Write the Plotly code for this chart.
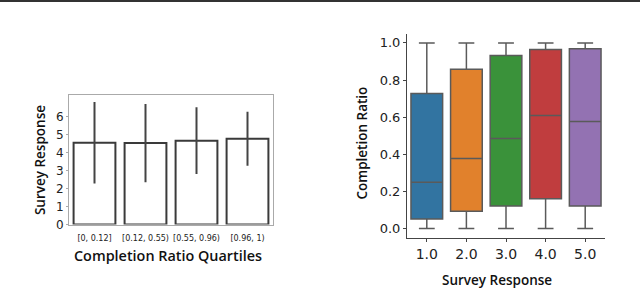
import plotly.graph_objects as go

W, H = 640, 295

# Left chart data
quartile_labels = ["[0, 0.12]", "[0.12, 0.55)", "[0.55, 0.96)", "[0.96, 1)"]
mean_response = [4.54, 4.52, 4.65, 4.76]
response_err = [2.26, 2.17, 1.85, 1.5]

# Right chart data
survey_levels = ["1.0", "2.0", "3.0", "4.0", "5.0"]
q1_vals = [0.051, 0.093, 0.121, 0.161, 0.121]
median_vals = [0.25, 0.377, 0.485, 0.609, 0.576]
q3_vals = [0.727, 0.858, 0.932, 0.965, 0.968]
low_whisk = [0.0, 0.0, 0.0, 0.0, 0.0]
high_whisk = [1.0, 1.0, 1.0, 1.0, 1.0]
box_colors = ["#3274a1", "#e1812c", "#3a923a", "#c03d3e", "#9372b2"]

def px(x):
    return x / W

def py(y):
    return 1 - y / H

fig = go.Figure()

fig.add_trace(go.Bar(
    x=quartile_labels, y=mean_response,
    marker=dict(color="white", line=dict(color="#3a3a3a", width=2)),
    error_y=dict(type="data", array=response_err, color="#444444", thickness=2, width=0),
    xaxis="x", yaxis="y", showlegend=False, width=0.82,
))

for i, lvl in enumerate(survey_levels):
    fig.add_trace(go.Box(
        x=[lvl], q1=[q1_vals[i]], median=[median_vals[i]], q3=[q3_vals[i]],
        lowerfence=[low_whisk[i]], upperfence=[high_whisk[i]],
        fillcolor=box_colors[i], line=dict(color="#5a5a5a", width=1.5),
        xaxis="x2", yaxis="y2", showlegend=False, width=0.8, whiskerwidth=0.5,
        boxpoints=False,
    ))

def tfont(size):
    return dict(family="Open Sans", size=size, color="#111111", weight=600)

fig.update_layout(
    width=W, height=H, margin=dict(l=0, r=0, t=0, b=0),
    paper_bgcolor="white", plot_bgcolor="white",
    xaxis=dict(domain=[px(69), px(273)], anchor="y", range=[-0.5, 3.5],
               showline=True, linecolor="#aaaaaa", mirror=True, linewidth=1,
               ticks="", tickangle=0, ticklabelstandoff=6,
               tickfont=dict(family="DejaVu Sans", size=8, color="#222"),
               showgrid=False, zeroline=False),
    yaxis=dict(domain=[py(230), py(97)], anchor="x", range=[0, 7.2],
               tickvals=[0, 1, 2, 3, 4, 5, 6], showline=True, linecolor="#aaaaaa",
               mirror=True, linewidth=1, ticks="outside", ticklen=2, tickcolor="#aaaaaa",
               tickfont=dict(family="DejaVu Sans", size=12, color="#222"),
               showgrid=False, zeroline=False),
    xaxis2=dict(domain=[px(407), px(605)], anchor="y2", range=[-0.5, 4.5],
                showline=True, linecolor="#444444", linewidth=1, ticks="outside",
                ticklen=3, tickcolor="#444444", tickfont=dict(family="DejaVu Sans", size=14, color="#222"),
                showgrid=False, zeroline=False),
    yaxis2=dict(domain=[py(244), py(35)], anchor="x2", range=[-0.052, 1.047],
                tickvals=[0, 0.2, 0.4, 0.6, 0.8, 1.0], ticktext=["0.0", "0.2", "0.4", "0.6", "0.8", "1.0"],
                showline=True, linecolor="#444444", linewidth=1, ticks="outside",
                ticklen=3, tickcolor="#444444", tickfont=dict(family="DejaVu Sans", size=13, color="#222"),
                showgrid=False, zeroline=False),
    shapes=[dict(type="line", xref="paper", yref="paper", x0=0, x1=1, y0=py(1), y1=py(1),
                 line=dict(color="#333333", width=2))],
    annotations=[
        dict(text="Survey Response", xref="paper", yref="paper", x=px(40), y=py(164),
             xanchor="center", yanchor="middle",
             textangle=-90, showarrow=False, font=tfont(13.5)),
        dict(text="Completion Ratio Quartiles", xref="paper", yref="paper", x=px(168), y=py(262),
             xanchor="center", yanchor="middle",
             showarrow=False, font=tfont(14.4)),
        dict(text="Completion Ratio", xref="paper", yref="paper", x=px(362), y=py(147),
             xanchor="center", yanchor="middle",
             textangle=-90, showarrow=False, font=tfont(13.5)),
        dict(text="Survey Response", xref="paper", yref="paper", x=px(497), y=py(287),
             xanchor="center", yanchor="middle",
             showarrow=False, font=tfont(13.5)),
    ],
)

fig.write_html("out.html", config={"displayModeBar": False},
               post_script="document.body.style.margin='0';")
